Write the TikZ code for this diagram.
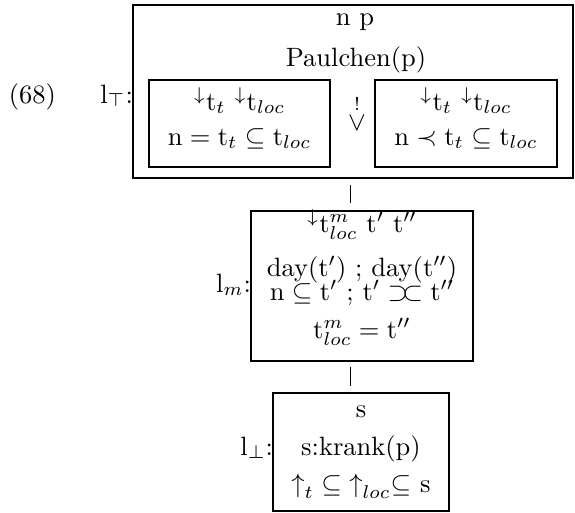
\documentclass[tikz,border=0pt]{standalone}
\usepackage{graphicx}
\newcommand\Sz[1]{\scalebox{2.65}{#1}}
\newcommand\tm{\mathrm{t}}
\newcommand\abut{\mathrel{\supset\mkern-4mu\subset}}
\begin{document}
\begin{tikzpicture}[x=1pt,y=-1pt,
  every node/.style={inner sep=0pt, outer sep=0pt},
  box/.style={draw, line width=2.2pt},
  txt/.style={anchor=base},
  conn/.style={line width=0.9pt}]
\useasboundingbox (0,0) rectangle (575,512);
% boxes
\node[box, minimum width=440pt, minimum height=173pt] (outer) at (353,91.5) {};
\node[box, minimum width=181pt, minimum height=87pt] (left) at (239.5,123.5) {};
\node[box, minimum width=182pt, minimum height=87pt] (right) at (466,123.5) {};
\node[box, minimum width=222pt, minimum height=150pt] (mid) at (362,286) {};
\node[box, minimum width=176pt, minimum height=118pt] (bot) at (361,452) {};
\coordinate (cx) at (350,0);
% left labels
\node[txt] (ex) at (32.5,103) {\Sz{(68)}};
\node[txt, anchor=base east] (ltop) at (outer.west |- 0,103) {\Sz{l$_\top$:}};
\node[txt, anchor=base east] (lm) at (mid.west |- 0,292) {\Sz{l$_m$:}};
\node[txt, anchor=base east] (lbot) at (bot.west |- 0,455) {\Sz{l$_\bot$:}};
% outer box text
\node[txt] (np) at (355,25) {\Sz{n\ p}};
\node[txt] (paul) at (356,66) {\Sz{Paulchen(p)}};
\node[txt] (l1) at (left.center |- 0,110) {\Sz{${}^{\downarrow}\tm_t\ {}^{\downarrow}\tm_{loc}$}};
\node[txt] (l2) at (left.center |- 0,145) {\Sz{$\mathrm{n}=\tm_t\subseteq\tm_{loc}$}};
\node[txt] (r1) at (right.center |- 0,110) {\Sz{${}^{\downarrow}\tm_t\ {}^{\downarrow}\tm_{loc}$}};
\node[txt] (r2) at (right.center |- 0,145) {\Sz{$\mathrm{n}\prec\tm_t\subseteq\tm_{loc}$}};
\node (or) at (357,113) {\Sz{$\stackrel{!}{\vee}$}};
% mid box text
\node[txt] (m1) at (mid.center |- 0,232) {\Sz{${}^{\downarrow}\tm^m_{loc}\ \tm'\ \tm''$}};
\node[txt] (m2) at (mid.center |- 0,276) {\Sz{day(t$'$) ; day(t$''$)}};
\node[txt] (m3) at (mid.center |- 0,300) {\Sz{$\mathrm{n}\subseteq\tm'$ ; $\tm'\abut\tm''$}};
\node[txt] (m4) at (mid.center |- 0,338) {\Sz{$\tm^m_{loc}=\tm''$}};
% bottom box text
\node[txt] (b1) at (bot.center |- 0,417) {\Sz{s}};
\node[txt] (b2) at (bot.center |- 0,455) {\Sz{s:krank(p)}};
\node[txt] (b3) at (bot.center |- 0,492) {\Sz{$\mathord{\uparrow}_t\subseteq\mathord{\uparrow}_{loc}{\subseteq}\ \mathrm{s}$}};
% connectors
\draw[conn, shorten <=7pt, shorten >=8pt] (outer.south -| cx) -- (mid.north -| cx);
\draw[conn, shorten <=6pt, shorten >=7pt] (mid.south -| cx) -- (bot.north -| cx);
\end{tikzpicture}
\end{document}
